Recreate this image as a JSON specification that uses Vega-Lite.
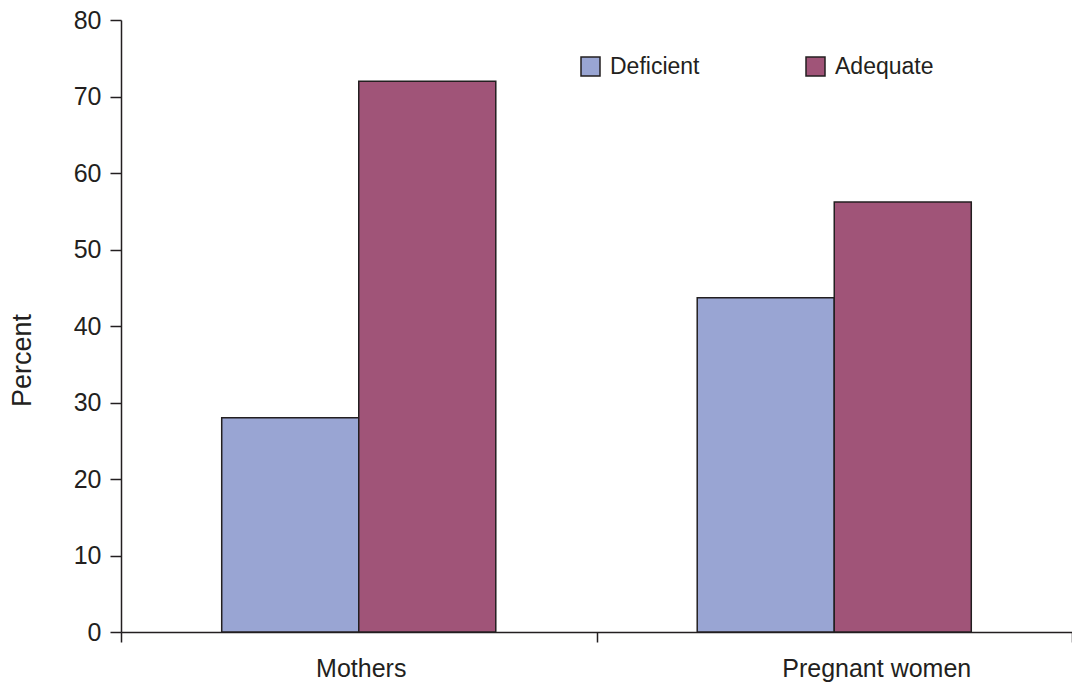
{
  "$schema": "https://vega.github.io/schema/vega-lite/v6.json",
  "width": 951,
  "height": 612,
  "autosize": {"type": "none"},
  "padding": {"left": 121, "top": 20, "right": 0, "bottom": 59},
  "background": "white",
  "config": {
    "view": {"stroke": null},
    "font": "Liberation Sans",
    "axis": {"grid": false, "domainColor": "#231f20", "tickColor": "#231f20", "domainWidth": 1.5, "tickWidth": 1.5, "labelColor": "#231f20", "titleColor": "#231f20", "labelFont": "Liberation Sans", "titleFont": "Liberation Sans"}
  },
  "data": {
    "values": [
      {"group": "Mothers", "status": "Deficient", "percent": 28},
      {"group": "Mothers", "status": "Adequate", "percent": 72},
      {"group": "Pregnant women", "status": "Deficient", "percent": 43.7},
      {"group": "Pregnant women", "status": "Adequate", "percent": 56.2}
    ]
  },
  "mark": {"type": "bar", "stroke": "#231f20", "strokeWidth": 1.5},
  "encoding": {
    "x": {
      "field": "group",
      "type": "nominal",
      "scale": {"paddingInner": 0, "paddingOuter": 0},
      "axis": {
        "title": null,
        "labelAngle": 0,
        "labelFontSize": 25,
        "labelPadding": 14,
        "labelLimit": 400,
        "tickSize": 10,
        "tickBand": "extent",
        "labelOffset": {"expr": "datum.value == 'Pregnant women' ? 42 : 2"}
      }
    },
    "xOffset": {
      "field": "status",
      "type": "nominal",
      "sort": ["Deficient", "Adequate"],
      "scale": {"paddingInner": 0, "paddingOuter": 0.735}
    },
    "y": {
      "field": "percent",
      "type": "quantitative",
      "scale": {"domain": [0, 80]},
      "axis": {
        "title": "Percent",
        "titleFontSize": 27,
        "titleFontWeight": "normal",
        "titleX": -91,
        "titleY": 340,
        "titleBaseline": "alphabetic",
        "values": [0, 10, 20, 30, 40, 50, 60, 70, 80],
        "labelFontSize": 25,
        "tickSize": 11,
        "labelPadding": 9
      }
    },
    "color": {
      "field": "status",
      "type": "nominal",
      "sort": ["Deficient", "Adequate"],
      "scale": {"domain": ["Deficient", "Adequate"], "range": ["#99a5d3", "#a05478"]},
      "legend": {
        "title": null,
        "orient": "none",
        "legendX": 458,
        "legendY": 35,
        "direction": "horizontal",
        "symbolType": "square",
        "symbolSize": 361,
        "symbolStrokeColor": "#231f20",
        "symbolStrokeWidth": 1.5,
        "symbolOpacity": 1,
        "labelFontSize": 23,
        "labelColor": "#231f20",
        "labelOffset": 8,
        "columnPadding": 103,
        "labelLimit": 300
      }
    }
  }
}
